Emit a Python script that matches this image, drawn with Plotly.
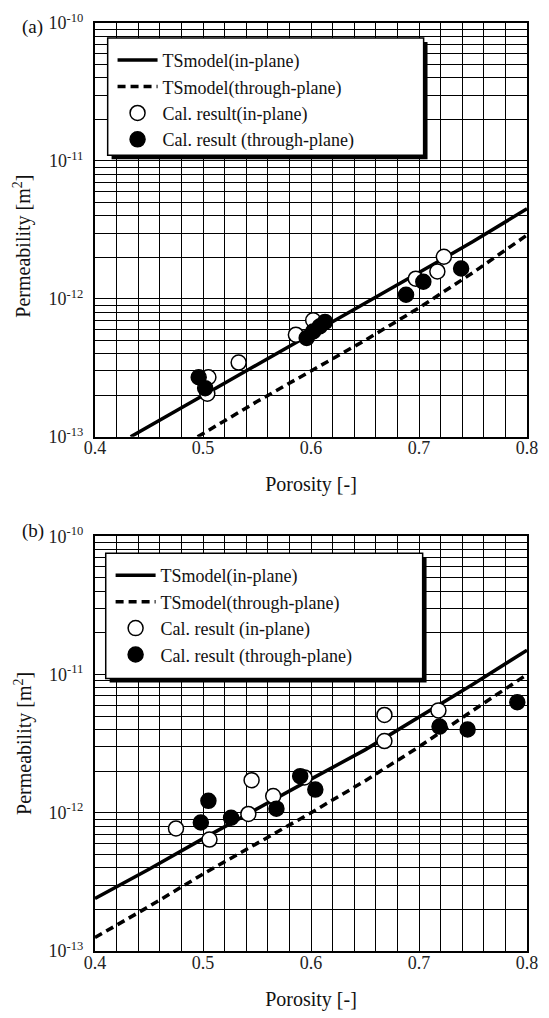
import plotly.graph_objects as go

# ---------------- data ----------------
# Panel (a)
a_model_in_x = [0.433, 0.50, 0.55, 0.60, 0.65, 0.70, 0.75, 0.80]
a_model_in_y = [1.0e-13, 2.0e-13, 3.3e-13, 5.6e-13, 9.3e-13, 1.55e-12, 2.6e-12, 4.5e-12]
a_model_th_x = [0.495, 0.55, 0.60, 0.65, 0.70, 0.75, 0.80]
a_model_th_y = [1.0e-13, 1.8e-13, 3.0e-13, 5.0e-13, 8.6e-13, 1.55e-12, 2.9e-12]
a_cal_in_x = [0.505, 0.504, 0.533, 0.586, 0.602, 0.697, 0.717, 0.723]
a_cal_in_y = [2.7e-13, 2.05e-13, 3.45e-13, 5.5e-13, 7.0e-13, 1.4e-12, 1.58e-12, 2.02e-12]
a_cal_th_x = [0.496, 0.502, 0.596, 0.602, 0.608, 0.613, 0.688, 0.704, 0.739]
a_cal_th_y = [2.7e-13, 2.25e-13, 5.2e-13, 5.8e-13, 6.3e-13, 6.8e-13, 1.07e-12, 1.33e-12, 1.66e-12]

# Panel (b)
b_model_in_x = [0.40, 0.45, 0.50, 0.55, 0.60, 0.65, 0.70, 0.75, 0.80]
b_model_in_y = [2.4e-13, 3.9e-13, 6.5e-13, 1.07e-12, 1.75e-12, 2.85e-12, 4.9e-12, 8.5e-12, 1.5e-11]
b_model_th_x = [0.40, 0.45, 0.50, 0.55, 0.60, 0.65, 0.70, 0.75, 0.80]
b_model_th_y = [1.25e-13, 2.1e-13, 3.6e-13, 6.0e-13, 1.0e-12, 1.7e-12, 3.0e-12, 5.5e-12, 1.0e-11]
b_cal_in_x = [0.475, 0.506, 0.542, 0.545, 0.565, 0.594, 0.668, 0.668, 0.718]
b_cal_in_y = [7.7e-13, 6.4e-13, 9.8e-13, 1.72e-12, 1.32e-12, 1.8e-12, 5.1e-12, 3.3e-12, 5.5e-12]
b_cal_th_x = [0.505, 0.498, 0.526, 0.568, 0.590, 0.604, 0.719, 0.745, 0.791]
b_cal_th_y = [1.22e-12, 8.5e-13, 9.2e-13, 1.07e-12, 1.84e-12, 1.47e-12, 4.2e-12, 4.0e-12, 6.3e-12]

# axis ticks
x_major = [0.4, 0.5, 0.6, 0.7, 0.8]
x_major_text = ["0.4", "0.5", "0.6", "0.7", "0.8"]
x_minor = [round(0.40 + 0.02 * i, 2) for i in range(21)]
y_major = [1e-13, 1e-12, 1e-11, 1e-10]
y_major_text = ["10<sup>-13</sup>", "10<sup>-12</sup>", "10<sup>-11</sup>", "10<sup>-10</sup>"]
y_minor = [m * 10.0 ** e for e in (-13, -12, -11) for m in range(2, 10)]

# legend labels
a_labels = ["TSmodel(in-plane)", "TSmodel(through-plane)",
            "Cal. result(in-plane)", "Cal. result (through-plane)"]
b_labels = ["TSmodel(in-plane)", "TSmodel(through-plane)",
            "Cal. result (in-plane)", "Cal. result (through-plane)"]

# ---------------- figure ----------------
FONT = "Liberation Serif"
W, H = 549, 1018
ML, MR, MT, MB = 95, 11, 22, 63
PW, PH = W - ML - MR, H - MT - MB


def px2x(px):
    return (px - ML) / PW


def py2y(py):
    return (H - MB - py) / PH


fig = go.Figure()

panels = [
    ("x", "y", "legend", a_labels,
     (a_model_in_x, a_model_in_y), (a_model_th_x, a_model_th_y),
     (a_cal_in_x, a_cal_in_y), (a_cal_th_x, a_cal_th_y)),
    ("x2", "y2", "legend2", b_labels,
     (b_model_in_x, b_model_in_y), (b_model_th_x, b_model_th_y),
     (b_cal_in_x, b_cal_in_y), (b_cal_th_x, b_cal_th_y)),
]

for xa, ya, lg, labels, m_in, m_th, c_in, c_th in panels:
    fig.add_trace(go.Scatter(x=m_in[0], y=m_in[1], mode="lines", name=labels[0],
                             line=dict(color="black", width=3.5), xaxis=xa, yaxis=ya,
                             legend=lg))
    fig.add_trace(go.Scatter(x=m_th[0], y=m_th[1], mode="lines", name=labels[1],
                             line=dict(color="black", width=3.5, dash="8px,5px"),
                             xaxis=xa, yaxis=ya, legend=lg))
    fig.add_trace(go.Scatter(x=c_in[0], y=c_in[1], mode="markers", name=labels[2],
                             marker=dict(symbol="circle", size=15, color="white",
                                         line=dict(color="black", width=1.5)),
                             xaxis=xa, yaxis=ya, legend=lg))
    fig.add_trace(go.Scatter(x=c_th[0], y=c_th[1], mode="markers", name=labels[3],
                             marker=dict(symbol="circle", size=15, color="black",
                                         line=dict(color="black", width=1.5)),
                             xaxis=xa, yaxis=ya, legend=lg))

GRID = dict(showgrid=True, gridcolor="black", gridwidth=1.4)
common_x = dict(range=[0.4, 0.8], tickmode="array", tickvals=x_major, ticktext=x_major_text,
                zeroline=False, showline=True, linecolor="black", linewidth=2.2, mirror=True,
                ticks="", ticklabelstandoff=-6,
                tickfont=dict(family=FONT, size=18, color="#222"),
                minor=dict(tickmode="array", tickvals=x_minor, ticks="", **GRID), **GRID)
common_y = dict(type="log", range=[-13, -10], tickmode="array", tickvals=y_major,
                ticktext=y_major_text, zeroline=False, showline=True, linecolor="black",
                linewidth=2.2, mirror=True, ticks="", ticklabelstandoff=6,
                tickfont=dict(family=FONT, size=18, color="#222"),
                minor=dict(tickmode="array", tickvals=y_minor, ticks="", **GRID), **GRID)

title_font = dict(family=FONT, size=20, color="#111")
ya_dom = [py2y(438), 1.0]
yb_dom = [0.0, py2y(538)]

legend_common = dict(xanchor="left", yanchor="top", orientation="v",
                     bgcolor="rgba(0,0,0,0)", borderwidth=0,
                     font=dict(family=FONT, size=18, color="#111"), itemwidth=40)

fig.update_layout(
    width=W, height=H,
    margin=dict(l=ML, r=MR, t=MT, b=MB),
    paper_bgcolor="white", plot_bgcolor="white",
    xaxis=dict(common_x, domain=[0, 1], anchor="y",
               title=dict(text="Porosity [-]", font=title_font, standoff=20)),
    yaxis=dict(common_y, domain=ya_dom, anchor="x"),
    xaxis2=dict(common_x, domain=[0, 1], anchor="y2",
                title=dict(text="Porosity [-]", font=title_font, standoff=20)),
    yaxis2=dict(common_y, domain=yb_dom, anchor="x2"),
    legend=dict(legend_common, x=px2x(113), y=py2y(41)),
    legend2=dict(legend_common, x=px2x(111), y=py2y(559)),
    showlegend=True,
)

# y-axis titles
for cy in (246, 746):
    fig.add_annotation(text="Permeability [m<sup>2</sup>]", x=px2x(21), y=py2y(cy),
                       xref="paper", yref="paper", textangle=-90, showarrow=False,
                       xanchor="center", yanchor="middle", font=title_font)

# legend frames with drop shadow (decoration, in paper coordinates)
for (l, t, r, b) in [(108, 37, 432, 155), (106, 555, 431, 681)]:
    fig.add_shape(type="rect", xref="paper", yref="paper",
                  x0=px2x(l + 4), x1=px2x(r + 4), y0=py2y(b + 4), y1=py2y(t + 4),
                  fillcolor="black", line=dict(width=0), layer="above")
    fig.add_shape(type="rect", xref="paper", yref="paper",
                  x0=px2x(l), x1=px2x(r), y0=py2y(b), y1=py2y(t),
                  fillcolor="white", line=dict(color="black", width=1.5), layer="above")

# panel labels
fig.add_annotation(text="(a)", x=px2x(18), y=py2y(13), xref="paper", yref="paper",
                   showarrow=False, font=dict(family=FONT, size=19, color="#111"))
fig.add_annotation(text="(b)", x=px2x(18), y=py2y(533), xref="paper", yref="paper",
                   showarrow=False, font=dict(family=FONT, size=19, color="#111"))

fig.write_html("out.html")
